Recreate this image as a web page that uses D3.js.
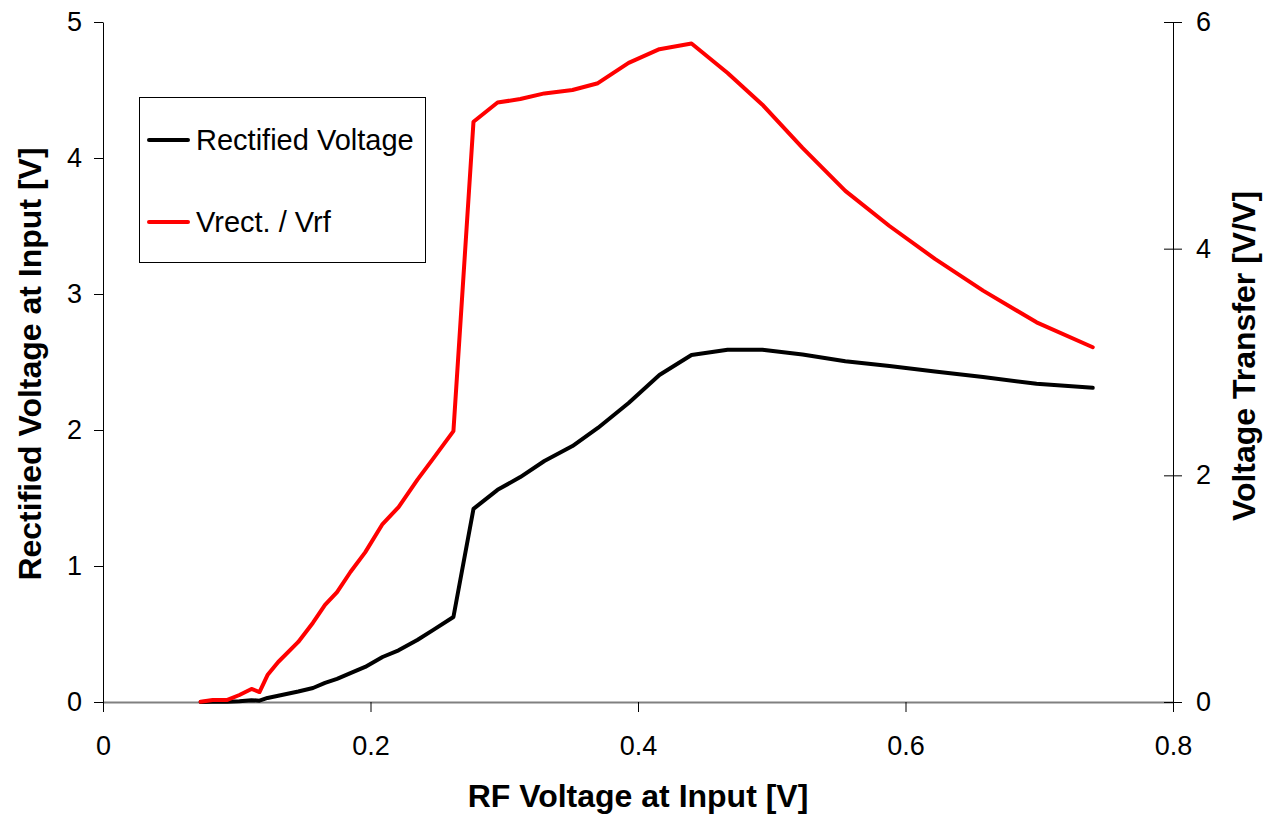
<!DOCTYPE html>
<html>
<head>
<meta charset="utf-8">
<script src="https://cdn.jsdelivr.net/npm/d3@7/dist/d3.min.js"></script>
<style>
  html, body { margin: 0; padding: 0; background: #fff; }
  svg { display: block; font-family: "Liberation Sans", Arial, sans-serif; }
</style>
</head>
<body>
<svg id="chart" width="1267" height="817"></svg>
<script>
// RF input voltage [V]
const rfVoltage = [0.073, 0.082, 0.093, 0.102, 0.111, 0.117, 0.123, 0.131, 0.146, 0.157,
  0.166, 0.175, 0.185, 0.196, 0.209, 0.221, 0.235, 0.247, 0.262, 0.277,
  0.295, 0.312, 0.330, 0.351, 0.370, 0.393, 0.416, 0.440, 0.467, 0.493,
  0.523, 0.555, 0.588, 0.622, 0.658, 0.698, 0.740];
// Rectified voltage at input [V] (left axis)
const rectifiedVoltage = [0, 0.001, 0.002, 0.006, 0.013, 0.010, 0.030, 0.046, 0.077, 0.103,
  0.140, 0.170, 0.212, 0.258, 0.331, 0.380, 0.456, 0.530, 0.625, 1.420,
  1.560, 1.654, 1.772, 1.882, 2.015, 2.199, 2.404, 2.551, 2.590, 2.590,
  2.555, 2.505, 2.470, 2.430, 2.390, 2.340, 2.310];
// Voltage transfer Vrect./Vrf [V/V] (right axis)
const voltageTransfer = [0.003, 0.018, 0.018, 0.062, 0.115, 0.088, 0.238, 0.353, 0.530, 0.700,
  0.856, 0.970, 1.147, 1.320, 1.570, 1.720, 1.960, 2.150, 2.390, 5.120,
  5.290, 5.320, 5.370, 5.400, 5.460, 5.640, 5.760, 5.810, 5.550, 5.270,
  4.890, 4.510, 4.200, 3.910, 3.630, 3.350, 3.130];

const xTicks = [0, 0.2, 0.4, 0.6, 0.8];
const yLeftTicks = [0, 1, 2, 3, 4, 5];
const yRightTicks = [0, 2, 4, 6];
const seriesNames = ["Rectified Voltage", "Vrect. / Vrf"];
const seriesColors = ["#000000", "#ff0000"];

const svg = d3.select("#chart");
const L = 103, R = 1173, T = 22, B = 702;

const x = d3.scaleLinear().domain([0, 0.8]).range([L, R]);
const yL = d3.scaleLinear().domain([0, 5]).range([B, T]);
const yR = d3.scaleLinear().domain([0, 6]).range([B, T]);

const fmt = d => (d === 0 ? "0" : String(d));
const tickFont = 27;

// X axis
const gx = svg.append("g").attr("transform", `translate(0,${B})`)
  .call(d3.axisBottom(x).tickValues(xTicks).tickFormat(fmt).tickSize(10).tickPadding(24).tickSizeOuter(0));
gx.select(".domain").attr("stroke", "#808080").attr("stroke-width", 2);
gx.selectAll(".tick line").attr("stroke", "#000");
gx.selectAll(".tick text").attr("font-size", tickFont).attr("font-family", "Liberation Sans, Arial, sans-serif").attr("fill", "#000");

// Left axis
const gl = svg.append("g").attr("transform", `translate(${L},0)`)
  .call(d3.axisLeft(yL).tickValues(yLeftTicks).tickFormat(fmt).tickSize(9).tickPadding(12).tickSizeOuter(0));
gl.select(".domain").attr("stroke", "#000");
gl.selectAll(".tick text").attr("font-size", tickFont).attr("font-family", "Liberation Sans, Arial, sans-serif").attr("fill", "#000");

// Right axis (ticks cross the axis)
const gr = svg.append("g").attr("transform", `translate(${R},0)`)
  .call(d3.axisRight(yR).tickValues(yRightTicks).tickFormat(fmt).tickSize(9).tickPadding(14).tickSizeOuter(0));
gr.select(".domain").attr("stroke", "#000");
gr.selectAll(".tick line").attr("x1", -9);
gr.selectAll(".tick text").attr("font-size", tickFont).attr("font-family", "Liberation Sans, Arial, sans-serif").attr("fill", "#000");

// Lines
const pts = rfVoltage.map((v, i) => ({ x: v, a: rectifiedVoltage[i], b: voltageTransfer[i] }));
const lineA = d3.line().x(d => x(d.x)).y(d => yL(d.a));
const lineB = d3.line().x(d => x(d.x)).y(d => yR(d.b));

svg.append("path").datum(pts).attr("d", lineA)
  .attr("fill", "none").attr("stroke", seriesColors[0]).attr("stroke-width", 4)
  .attr("stroke-linejoin", "round").attr("stroke-linecap", "round");
svg.append("path").datum(pts).attr("d", lineB)
  .attr("fill", "none").attr("stroke", seriesColors[1]).attr("stroke-width", 4)
  .attr("stroke-linejoin", "round").attr("stroke-linecap", "round");

// Legend
const lg = svg.append("g");
lg.append("rect").attr("x", 139.5).attr("y", 97.5).attr("width", 286).attr("height", 165)
  .attr("fill", "#fff").attr("stroke", "#000").attr("stroke-width", 1);
seriesNames.forEach((name, i) => {
  const cy = 140 + i * 82;
  lg.append("line").attr("x1", 149).attr("x2", 188).attr("y1", cy).attr("y2", cy)
    .attr("stroke", seriesColors[i]).attr("stroke-width", 4).attr("stroke-linecap", "round");
  lg.append("text").attr("x", 196).attr("y", cy).attr("dy", "0.35em")
    .attr("font-size", 29).attr("fill", "#000").text(name);
});

// Axis titles
svg.append("text").attr("x", (L + R) / 2).attr("y", 807).attr("text-anchor", "middle")
  .attr("font-size", 32).attr("font-weight", "bold").text("RF Voltage at Input [V]");
svg.append("text").attr("transform", `translate(41,${(T + B) / 2 + 2}) rotate(-90)`)
  .attr("text-anchor", "middle").attr("font-size", 32).attr("font-weight", "bold")
  .text("Rectified Voltage at Input [V]");
svg.append("text").attr("transform", `translate(1255,${(T + B) / 2 - 6}) rotate(-90)`)
  .attr("text-anchor", "middle").attr("font-size", 32).attr("font-weight", "bold")
  .text("Voltage Transfer [V/V]");
</script>
</body>
</html>
